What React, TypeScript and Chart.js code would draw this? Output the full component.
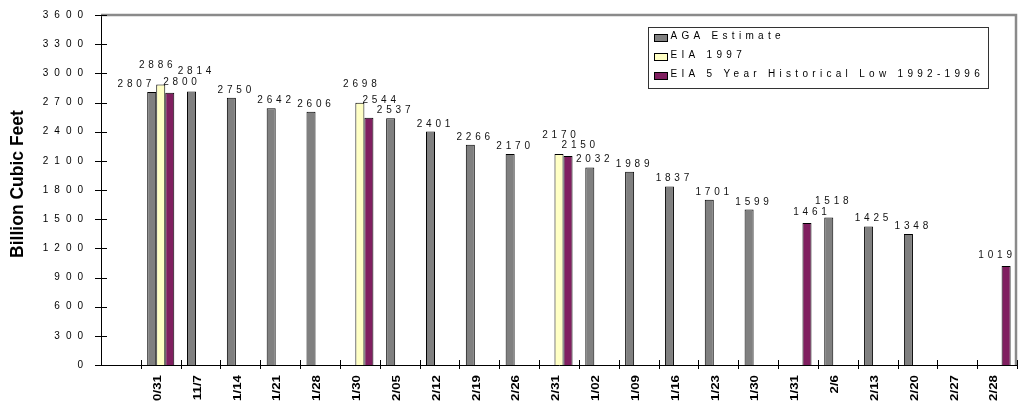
import React, { useEffect, useRef } from 'react';
import { Chart, registerables } from 'chart.js';

Chart.register(...registerables);

const categories = ['', '0/31', '11/7', '1/14', '1/21', '1/28', '1/30', '2/05', '2/12', '2/19', '2/26', '2/31', '1/02', '1/09', '1/16', '1/23', '1/30', '1/31', '2/6', '2/13', '2/20', '2/27', '2/28'];

const agaEstimate = [null, 2807, 2814, 2750, 2642, 2606, null, 2537, 2401, 2266, 2170, null, 2032, 1989, 1837, 1701, 1599, null, 1518, 1425, 1348, null, null];
const eia1997 = [null, 2886, null, null, null, null, 2698, null, null, null, null, 2170, null, null, null, null, null, null, null, null, null, null, null];
const eiaHistoricalLow = [null, 2800, null, null, null, null, 2544, null, null, null, null, 2150, null, null, null, null, null, 1461, null, null, null, null, 1019];

const seriesNames = ['AGA Estimate', 'EIA 1997', 'EIA 5 Year Historical Low 1992-1996'];
const yAxisTitle = 'Billion Cubic Feet';
const yMin = 0;
const yMax = 3600;
const yStep = 300;

const FONT = '"Liberation Sans", Arial, Helvetica, sans-serif';

const axisDecor = {
  id: 'axisDecor',
  afterDraw(chart: any) {
    const ctx = chart.ctx;
    const { left, right, top, bottom } = chart.chartArea;
    const xs = chart.scales.x;
    const ys = chart.scales.y;
    ctx.save();
    ctx.strokeStyle = '#8a8a8a';
    ctx.lineWidth = 2.5;
    ctx.beginPath();
    ctx.moveTo(left, top);
    ctx.lineTo(right - 1, top);
    ctx.lineTo(right - 1, bottom);
    ctx.stroke();
    ctx.strokeStyle = '#000';
    ctx.lineWidth = 1;
    ctx.beginPath();
    ys.ticks.forEach((t: any) => {
      const y = Math.round(ys.getPixelForValue(t.value)) + 0.5;
      ctx.moveTo(left - 6, y);
      ctx.lineTo(left + 6, y);
    });
    const n = chart.data.labels.length;
    const cw = xs.getPixelForValue(1) - xs.getPixelForValue(0);
    for (let i = 1; i <= n; i++) {
      const x = Math.round(xs.getPixelForValue(i) - cw / 2) + 0.5;
      ctx.moveTo(x, bottom - 5);
      ctx.lineTo(x, bottom + 4);
    }
    ctx.stroke();
    // y tick labels
    const sp = 6;
    ctx.font = '10px ' + FONT;
    (ctx as any).letterSpacing = sp + 'px';
    ctx.fillStyle = '#000';
    ctx.textAlign = 'right';
    ctx.textBaseline = 'middle';
    ys.ticks.forEach((t: any) => {
      const y = ys.getPixelForValue(t.value);
      ctx.fillText(String(t.value), left - 18 + sp, y);
    });
    (ctx as any).letterSpacing = '0px';
    // y axis title
    ctx.font = 'bold 17.5px ' + FONT;
    ctx.textAlign = 'center';
    ctx.save();
    ctx.translate(18, (top + bottom) / 2 - 6);
    ctx.rotate(-Math.PI / 2);
    ctx.fillText(yAxisTitle, 0, 0);
    ctx.restore();
    // x tick labels (rotated, stretched along their length)
    ctx.font = 'bold 10px ' + FONT;
    ctx.textAlign = 'right';
    ctx.textBaseline = 'middle';
    chart.data.labels.forEach((lab: string, i: number) => {
      if (!lab) return;
      const x = xs.getPixelForValue(i) - 2.5;
      ctx.save();
      ctx.translate(x, bottom + 10);
      ctx.rotate(-Math.PI / 2);
      ctx.scale(1.33, 1);
      ctx.fillText(lab, 0, 0);
      ctx.restore();
    });
    ctx.restore();
  },
};

const valueLabels = {
  id: 'valueLabels',
  afterDatasetsDraw(chart: any) {
    const ctx = chart.ctx;
    const sp = 3.8;
    const { right } = chart.chartArea;
    ctx.save();
    ctx.font = '10px ' + FONT;
    (ctx as any).letterSpacing = sp + 'px';
    ctx.fillStyle = '#111';
    ctx.textAlign = 'left';
    ctx.textBaseline = 'alphabetic';
    const placed: any[] = [];
    const n = chart.data.labels.length;
    const h = 7.5;
    const tol = 1;
    const vgap = 2;
    const collide = (a: any, b: any) =>
      a.l + tol < b.r && a.r - tol > b.l && a.b + vgap > b.t && a.t - vgap < b.b;
    for (let i = 0; i < n; i++) {
      const items: any[] = [];
      chart.data.datasets.forEach((ds: any, di: number) => {
        const v = ds.data[i];
        if (v == null) return;
        items.push({ v, di, el: chart.getDatasetMeta(di).data[i] });
      });
      const m = items.length;
      const order = items.map((it, k) => ({ it, k }));
      if (m > 2) order.sort((a, b) => (a.k === 1 ? 1 : 0) - (b.k === 1 ? 1 : 0));
      order.forEach(({ it, k }) => {
        const text = String(it.v);
        const w = ctx.measureText(text).width - sp;
        const half = it.el.width / 2;
        let lx: number;
        if (m > 1 && k === m - 1) lx = it.el.x - half - 2;
        else if (m > 2 && k === 0) lx = it.el.x + half - 5 - w;
        else if (m > 2) lx = it.el.x - w / 2 - 5;
        else if (m === 1) lx = it.el.x - w / 2 + 3;
        else lx = it.el.x - w / 2;
        if (lx + w > right - 5) lx = right - 5 - w;
        const gap = it.di === 0 ? 5 : it.di === 1 ? 16 : 8;
        const L: any = { text, l: lx, r: lx + w, b: it.el.y - gap };
        L.t = L.b - h;
        let guard = 0;
        while (guard++ < 30) {
          const p = placed.find((q) => collide(L, q));
          if (!p) break;
          if (L.b - p.b > 3) {
            const nb = L.t - vgap - 1;
            const cand = { ...p, b: nb, t: nb - h };
            if (!placed.some((q) => q !== p && collide(cand, q))) {
              p.b = cand.b;
              p.t = cand.t;
              continue;
            }
          }
          L.b = p.t - vgap - 1;
          L.t = L.b - h;
        }
        placed.push(L);
      });
    }
    placed.forEach((L) => ctx.fillText(L.text, L.l, L.b));
    ctx.restore();
  },
};

const boxLegend = {
  id: 'boxLegend',
  afterDraw(chart: any) {
    const ctx = chart.ctx;
    const { right, top } = chart.chartArea;
    const bw = 340;
    const bh = 61;
    const bx = Math.round(right - 29 - bw) + 0.5;
    const by = Math.round(top + 12) + 0.5;
    ctx.save();
    ctx.fillStyle = '#fff';
    ctx.fillRect(bx, by, bw, bh);
    ctx.strokeStyle = '#333';
    ctx.lineWidth = 1;
    ctx.strokeRect(bx, by, bw, bh);
    ctx.font = '10px ' + FONT;
    (ctx as any).letterSpacing = '4.3px';
    ctx.textAlign = 'left';
    ctx.textBaseline = 'middle';
    chart.data.datasets.forEach((ds: any, i: number) => {
      const cy = by + 9.5 + i * 19;
      ctx.fillStyle = ds.backgroundColor;
      ctx.fillRect(bx + 6, Math.round(cy - 3.5), 13, 7);
      ctx.strokeStyle = '#000';
      ctx.strokeRect(bx + 6, Math.round(cy - 3.5) + 0.5, 13, 7);
      ctx.fillStyle = '#000';
      ctx.fillText(ds.label, bx + 22, cy - 1);
    });
    ctx.restore();
  },
};

export default function App() {
  const ref = useRef<HTMLCanvasElement | null>(null);
  useEffect(() => {
    document.body.style.margin = '0';
    if (!ref.current) return;
    const chart = new Chart(ref.current, {
      type: 'bar',
      data: {
        labels: categories,
        datasets: [
          { label: seriesNames[0], data: agaEstimate, backgroundColor: '#808080', borderColor: '#000', borderWidth: 1 },
          { label: seriesNames[1], data: eia1997, backgroundColor: '#FFFFC4', borderColor: '#000', borderWidth: 1 },
          { label: seriesNames[2], data: eiaHistoricalLow, backgroundColor: '#801F60', borderColor: '#000', borderWidth: 1 },
        ],
      } as any,
      options: {
        responsive: false,
        animation: false,
        devicePixelRatio: 1,
        layout: { padding: { left: 0, right: 1, top: 15, bottom: 0 } },
        datasets: { bar: { categoryPercentage: 0.68, barPercentage: 1.0 } } as any,
        plugins: { legend: { display: false }, tooltip: { enabled: false } },
        scales: {
          x: {
            grid: { display: false, drawTicks: false },
            border: { display: true, color: '#000', width: 1 },
            ticks: { display: false, autoSkip: false },
            afterFit: (s: any) => { s.height = 36; },
          },
          y: {
            min: yMin,
            max: yMax,
            ticks: { stepSize: yStep, display: false },
            grid: { display: false, drawTicks: false },
            border: { display: true, color: '#000', width: 1 },
            title: { display: false },
            afterFit: (s: any) => { s.width = 101; },
          },
        },
      } as any,
      plugins: [valueLabels, axisDecor, boxLegend],
    });
    return () => chart.destroy();
  }, []);
  return (
    <div style={{ width: 1018, height: 401 }}>
      <canvas ref={ref} width={1018} height={401} style={{ display: 'block' }} />
    </div>
  );
}
